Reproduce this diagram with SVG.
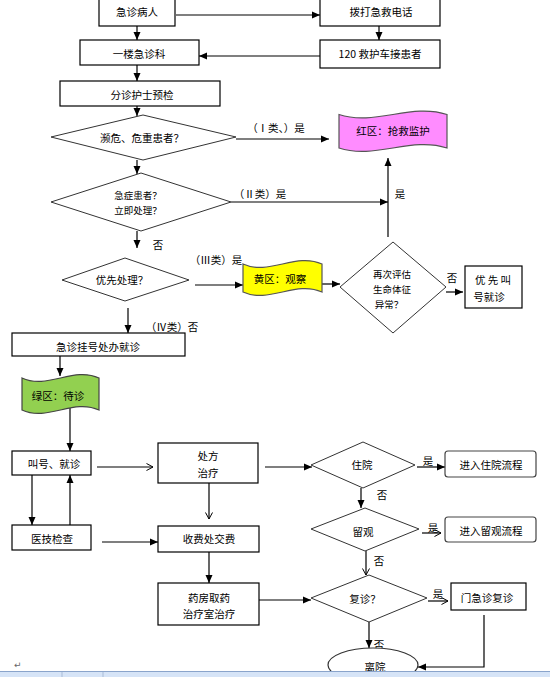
<svg xmlns="http://www.w3.org/2000/svg" width="550" height="677" viewBox="0 0 550 677">
<style>
  .box { fill: #fff; stroke: #000; stroke-width: 1.2; }
  .rbox { fill: #fff; stroke: #444; stroke-width: 1.2; }
  .dia { fill: #fff; stroke: #333; stroke-width: 1; }
  .t { font-family: "Noto Sans CJK SC", "Liberation Sans", sans-serif; font-size: 10.5px; fill: #000; text-anchor: middle; dominant-baseline: central; }
  .s { font-size: 9.5px; }
  .lbl { font-family: "Noto Sans CJK SC", "Liberation Serif", serif; font-size: 10.5px; fill: #000; text-anchor: middle; dominant-baseline: central; }
  .c { fill: none; stroke: #000; stroke-width: 1.2; }
  .f { marker-end: url(#af); }
  .o { marker-end: url(#ao); }
</style>
<defs>
  <marker id="af" markerUnits="userSpaceOnUse" markerWidth="9" markerHeight="8" refX="8" refY="4" orient="auto">
    <path d="M0,0.5 L8,4 L0,7.5 z" fill="#000"/>
  </marker>
  <marker id="ao" markerUnits="userSpaceOnUse" markerWidth="9" markerHeight="8" refX="7" refY="4" orient="auto">
    <path d="M0.5,0.5 L7,4 L0.5,7.5" fill="none" stroke="#000" stroke-width="1"/>
  </marker>
</defs>
<rect x="0" y="0" width="550" height="677" fill="#fff"/>

<g id="connectors">
  <path class="c f" d="M176,15 H320"/>
  <path class="c f" d="M137,26 V40"/>
  <path class="c f" d="M379,26 V40"/>
  <path class="c f" d="M320,56 H199"/>
  <path class="c f" d="M137,65 V81"/>
  <path class="c f" d="M137,106 V116"/>
  <path class="c f" d="M236,139 H329"/>
  <path class="c f" d="M137,160 V174"/>
  <path class="c f" d="M231,202 H388"/>
  <path class="c f" d="M388,237 V158"/>
  <path class="c f" d="M137,231 V248"/>
  <path class="c f" d="M195,285 H243"/>
  <path class="c f" d="M322,284 H340"/>
  <path class="c f" d="M446,292 H463"/>
  <path class="c f" d="M128,308 V333"/>
  <path class="c f" d="M60,356 V376"/>
  <path class="c f" d="M70,408 V451"/>
  <path class="c o" d="M97,467 H153"/>
  <path class="c f" d="M265,467 H312"/>
  <path class="c f" d="M32,475 V525"/>
  <path class="c f" d="M70,525 V475"/>
  <path class="c f" d="M102,542 H158"/>
  <path class="c o" d="M209,483 V519"/>
  <path class="c f" d="M209,552 V583"/>
  <path class="c f" d="M259,600 H311"/>
  <path class="c f" d="M417,467 H445"/>
  <path class="c f" d="M361,488 V508"/>
  <path class="c o" d="M422,533 H441"/>
  <path class="c o" d="M366,551 V575"/>
  <path class="c o" d="M428,601 H448"/>
  <path class="c f" d="M369,622 V648"/>
  <path class="c f" d="M484,615 V667 H418"/>
</g>

<g id="labels">
  <text class="lbl" x="276" y="127">（Ⅰ类、）是</text>
  <text class="lbl" x="260" y="193">（Ⅱ类）是</text>
  <text class="lbl" x="400" y="193">是</text>
  <text class="lbl" x="158" y="244">否</text>
  <text class="lbl" x="216" y="259">（Ⅲ类）是</text>
  <text class="lbl" x="452" y="277">否</text>
  <text class="lbl" x="172" y="326">（Ⅳ类）否</text>
  <text class="lbl" x="428" y="460">是</text>
  <text class="lbl" x="382" y="494">否</text>
  <text class="lbl" x="433" y="527">是</text>
  <text class="lbl" x="379" y="560">否</text>
  <text class="lbl" x="438" y="593">是</text>
  <text class="lbl" x="379" y="644">否</text>
</g>

<g id="n-patient"><rect class="box" x="99" y="-2" width="76" height="28"/><text class="t" x="137" y="11">急诊病人</text></g>
<g id="n-call"><rect class="box" x="320" y="-2" width="120" height="28"/><text class="t" x="381" y="11">拨打急救电话</text></g>
<g id="n-er"><rect class="box" x="80" y="40" width="119" height="25"/><text class="t" x="139" y="53">一楼急诊科</text></g>
<g id="n-120"><rect class="box" x="320" y="40" width="120" height="28"/><text class="t" x="380" y="53">120 救护车接患者</text></g>
<g id="n-triage"><rect class="box" x="60" y="81" width="160" height="25"/><text class="t" x="142" y="94">分诊护士预检</text></g>

<g id="d-critical"><polygon class="dia" points="51,137 143,115 236,137 143,160"/><text class="t" x="142" y="137">濒危、危重患者？</text></g>
<g id="n-red"><path d="M339,114.5 C375,126.5 411,102.5 447,114.5 L447,148 C411,136 375,160 339,148 Z" fill="#ff8cff" stroke="#555" stroke-width="1.2"/><text class="t" x="393" y="130">红区：抢救监护</text></g>
<g id="d-urgent"><polygon class="dia" points="51,202 141,173 231,202 141,231"/><text class="t s" x="138" y="195">急症患者？</text><text class="t s" x="138" y="210">立即处理？</text></g>
<g id="d-priority"><polygon class="dia" points="62,280 125,258 189,280 125,301"/><text class="t" x="122" y="279">优先处理？</text></g>
<g id="n-yellow"><path d="M243,264 C269.3,276 295.7,252 322,264 L322,292 C295.7,280 269.3,304 243,292 Z" fill="#ffff00" stroke="#555" stroke-width="1.2"/><text class="t" x="280" y="278">黄区：观察</text></g>
<g id="d-reassess"><polygon class="dia" points="340,287 393,242 446,287 393,333"/><text class="t s" x="392" y="274">再次评估</text><text class="t s" x="392" y="289">生命体征</text><text class="t s" x="389" y="304">异常？</text></g>
<g id="n-prio-call"><rect class="box" x="465" y="266" width="57" height="42"/><text class="t" x="493" y="279">优 先 叫</text><text class="t" x="489" y="296">号就诊</text></g>
<g id="n-register"><rect class="box" x="12" y="333" width="173" height="23"/><text class="t" x="98" y="346">急诊挂号处办就诊</text></g>
<g id="n-green"><path d="M22,378 C47.7,390 73.3,366 99,378 L99,410 C73.3,398 47.7,422 22,410 Z" fill="#92d050" stroke="#444" stroke-width="1.2"/><text class="t" x="58" y="395">绿区：待诊</text></g>

<g id="n-call-visit"><rect class="box" x="12" y="451" width="79" height="24"/><text class="t" x="54" y="463">叫号、就诊</text></g>
<g id="n-exam"><rect class="box" x="12" y="525" width="79" height="25"/><text class="t" x="52" y="538">医技检查</text></g>
<g id="n-rx"><rect class="box" x="158" y="443" width="100" height="40"/><text class="t" x="208" y="455">处方</text><text class="t" x="208" y="472">治疗</text></g>
<g id="n-pay"><rect class="box" x="158" y="526" width="101" height="26"/><text class="t" x="209" y="538">收费处交费</text></g>
<g id="n-pharm"><rect class="box" x="158" y="583" width="101" height="42"/><text class="t" x="209" y="597">药房取药</text><text class="t" x="209" y="613">治疗室治疗</text></g>

<g id="d-admit"><polygon class="dia" points="311,465 363,442 415,465 363,488"/><text class="t" x="362" y="464">住院</text></g>
<g id="n-admit"><rect class="rbox" x="445" y="451" width="91" height="26" rx="3"/><text class="t" x="491" y="464">进入住院流程</text></g>
<g id="d-observe"><polygon class="dia" points="311,529 365,508 419,529 365,551"/><text class="t" x="363" y="531">留观</text></g>
<g id="n-observe"><rect class="rbox" x="445" y="517" width="91" height="25" rx="3"/><text class="t" x="491" y="530">进入留观流程</text></g>
<g id="d-revisit"><polygon class="dia" points="311,598 369,575 427,598 369,622"/><text class="t" x="365" y="598">复诊？</text></g>
<g id="n-revisit"><rect class="box" x="451" y="583" width="75" height="27"/><text class="t" x="487" y="597">门急诊复诊</text></g>
<g id="n-leave"><ellipse cx="373" cy="665" rx="45" ry="17" fill="#fff" stroke="#333" stroke-width="1.2"/><text class="t" x="375" y="666">离院</text></g>

<text x="14" y="668" font-family="DejaVu Sans, sans-serif" font-size="9" fill="#666">↵</text>
<g id="statusbar">
  <rect x="0" y="671" width="550" height="6" fill="#d6e4f7"/>
  <line x1="0" y1="671.5" x2="550" y2="671.5" stroke="#8aa4cb" stroke-width="1"/>
  <line x1="62" y1="672" x2="62" y2="677" stroke="#a9bcd8"/>
  <line x1="103" y1="672" x2="103" y2="677" stroke="#a9bcd8"/>
</g>
</svg>
